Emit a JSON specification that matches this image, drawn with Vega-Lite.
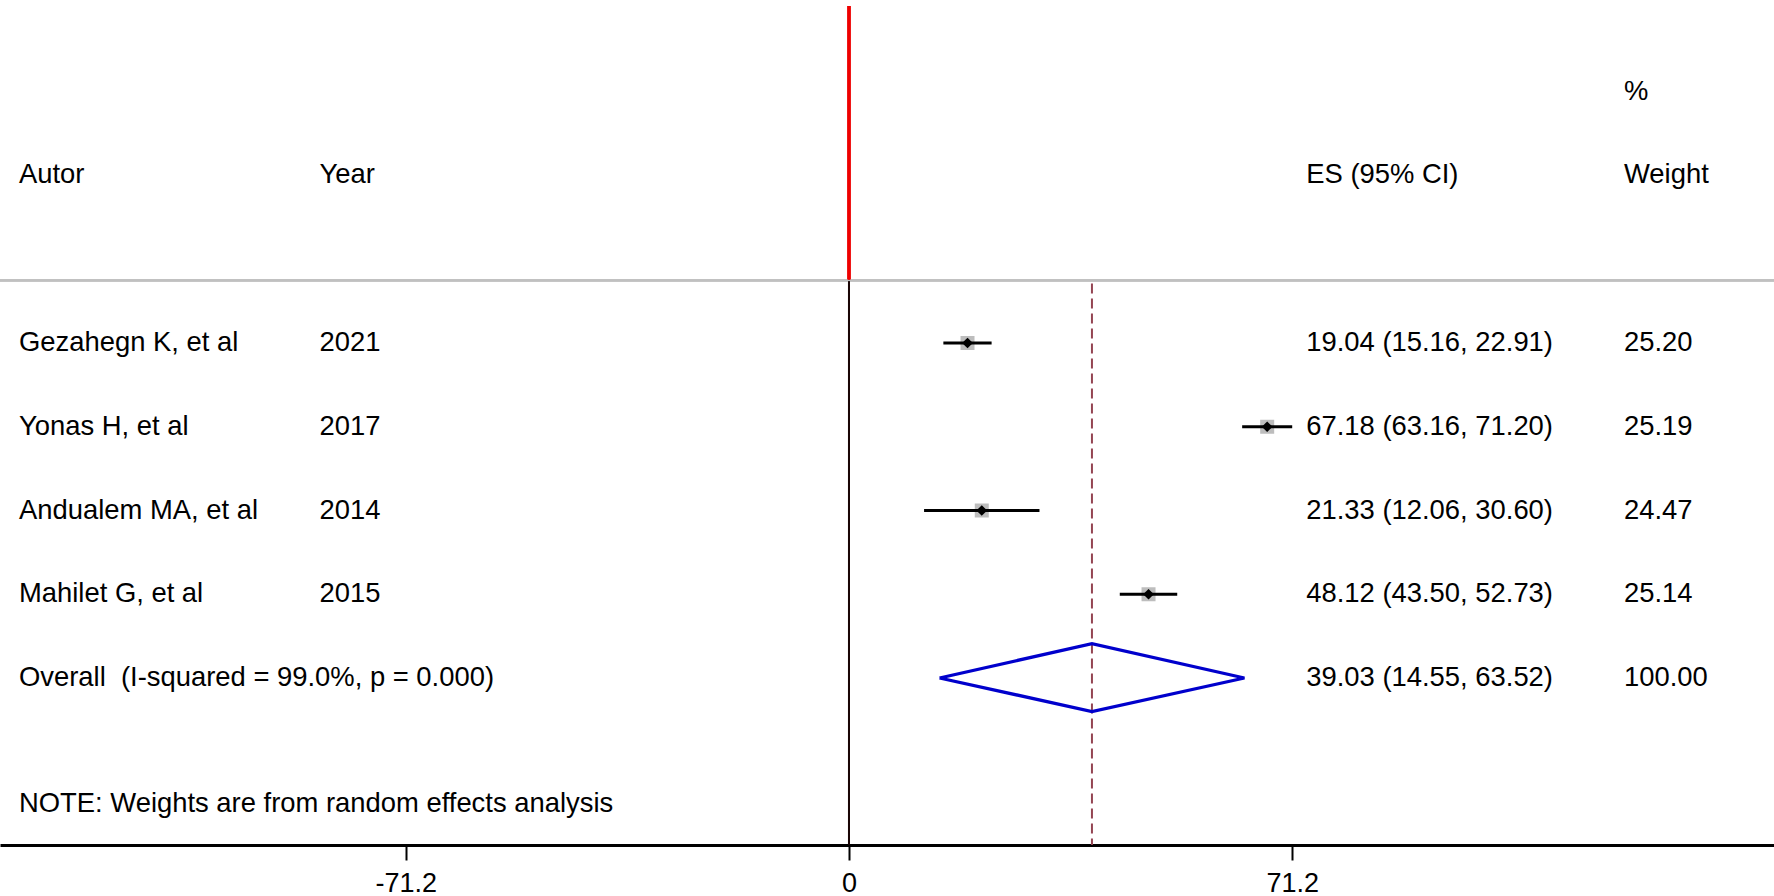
{
  "$schema": "https://vega.github.io/schema/vega-lite/v6.json",
  "width": 1774,
  "height": 845,
  "autosize": {"type": "none"},
  "padding": {"left": 0, "top": 0, "right": 0, "bottom": 51},
  "background": "white",
  "config": {
    "view": {"stroke": null},
    "text": {"font": "Liberation Sans", "fontSize": 27.4, "color": "black", "align": "left", "baseline": "middle"}
  },
  "datasets": {
    "rows": [
      {"row": -2, "weight": "%"},
      {"row": -1, "author": "Autor", "year": "Year", "es_ci": "ES (95% CI)", "weight": "Weight"},
      {"row": 1, "author": "Gezahegn K, et al", "year": "2021", "es_ci": "19.04 (15.16, 22.91)", "weight": "25.20", "es": 19.04, "lo": 15.16, "hi": 22.91, "type": "study"},
      {"row": 2, "author": "Yonas H, et al", "year": "2017", "es_ci": "67.18 (63.16, 71.20)", "weight": "25.19", "es": 67.18, "lo": 63.16, "hi": 71.20, "type": "study"},
      {"row": 3, "author": "Andualem MA, et al", "year": "2014", "es_ci": "21.33 (12.06, 30.60)", "weight": "24.47", "es": 21.33, "lo": 12.06, "hi": 30.60, "type": "study"},
      {"row": 4, "author": "Mahilet G, et al", "year": "2015", "es_ci": "48.12 (43.50, 52.73)", "weight": "25.14", "es": 48.12, "lo": 43.50, "hi": 52.73, "type": "study"},
      {"row": 5, "author": "Overall\u00a0 (I-squared = 99.0%, p = 0.000)", "es_ci": "39.03 (14.55, 63.52)", "weight": "100.00", "es": 39.03, "lo": 14.55, "hi": 63.52, "type": "overall"},
      {"row": 6.5, "author": "NOTE: Weights are from random effects analysis"}
    ],
    "diamond": [
      {"x": 14.55, "y": 5.0, "o": 1},
      {"x": 39.03, "y": 4.59, "o": 2},
      {"x": 63.52, "y": 5.0, "o": 3},
      {"x": 39.03, "y": 5.40, "o": 4},
      {"x": 14.55, "y": 5.0, "o": 5}
    ]
  },
  "data": {"name": "rows"},
  "encoding": {
    "x": {
      "type": "quantitative",
      "scale": {"domain": [-136.39, 148.6], "nice": false, "zero": false}
    },
    "y": {
      "type": "quantitative",
      "axis": null,
      "scale": {"domain": [-3.0955, 6.994], "reverse": true, "nice": false, "zero": false}
    }
  },
  "layer": [
    {
      "mark": {"type": "rule", "color": "#c0c0c0", "strokeWidth": 2},
      "encoding": {"y": {"datum": 0.25, "type": "quantitative", "axis": null}}
    },
    {
      "mark": {"type": "rule", "color": "#1a0505", "strokeWidth": 2},
      "encoding": {
        "x": {"datum": 0, "type": "quantitative", "axis": {
          "values": [-71.2, 0, 71.2],
          "labelExpr": "datum.value == 0 ? '0' : (datum.value < 0 ? '-' : '') + format(abs(datum.value), '.1f')",
          "title": null, "grid": false, "orient": "bottom",
          "domainColor": "black", "domainWidth": 3,
          "tickColor": "black", "tickWidth": 2, "tickSize": 15,
          "labelFont": "Liberation Sans", "labelFontSize": 27, "labelColor": "black",
          "labelPadding": 10, "labelFlush": false, "labelOverlap": false
        }},
        "y": {"datum": 0.27, "type": "quantitative", "axis": null},
        "y2": {"datum": 6.994}
      }
    },
    {
      "mark": {"type": "rule", "color": "#ee0000", "strokeWidth": 2.5},
      "encoding": {
        "x": {"datum": 0, "type": "quantitative"},
        "y": {"datum": -3.024, "type": "quantitative", "axis": null},
        "y2": {"datum": 0.24}
      }
    },
    {
      "transform": [{"filter": "datum.type == 'overall'"}],
      "mark": {"type": "rule", "color": "#944552", "strokeWidth": 2, "strokeDash": [10, 5]},
      "encoding": {
        "x": {"field": "es", "type": "quantitative"},
        "y": {"datum": 0.29, "type": "quantitative", "axis": null},
        "y2": {"datum": 6.994}
      }
    },
    {
      "transform": [{"filter": "datum.type == 'study'"}],
      "mark": {"type": "point", "shape": "square", "filled": true, "size": 196, "color": "#bdbdbd", "opacity": 1},
      "encoding": {
        "x": {"field": "es", "type": "quantitative"},
        "y": {"field": "row", "type": "quantitative", "axis": null}
      }
    },
    {
      "transform": [{"filter": "datum.type == 'study'"}],
      "mark": {"type": "rule", "color": "black", "strokeWidth": 3.2},
      "encoding": {
        "x": {"field": "lo", "type": "quantitative"},
        "x2": {"field": "hi"},
        "y": {"field": "row", "type": "quantitative", "axis": null}
      }
    },
    {
      "transform": [{"filter": "datum.type == 'study'"}],
      "mark": {"type": "point", "shape": "diamond", "filled": true, "size": 115, "color": "black", "opacity": 1},
      "encoding": {
        "x": {"field": "es", "type": "quantitative"},
        "y": {"field": "row", "type": "quantitative", "axis": null}
      }
    },
    {
      "data": {"name": "diamond"},
      "mark": {"type": "line", "color": "#0000cc", "strokeWidth": 3.3, "strokeJoin": "miter"},
      "encoding": {
        "x": {"field": "x", "type": "quantitative"},
        "y": {"field": "y", "type": "quantitative", "axis": null},
        "order": {"field": "o", "type": "quantitative"}
      }
    },
    {
      "transform": [{"filter": "datum.author != null"}],
      "mark": {"type": "text"},
      "encoding": {
        "x": {"datum": -133.34, "type": "quantitative"},
        "y": {"field": "row", "type": "quantitative", "axis": null},
        "text": {"field": "author"}
      }
    },
    {
      "transform": [{"filter": "datum.year != null"}],
      "mark": {"type": "text"},
      "encoding": {
        "x": {"datum": -85.06, "type": "quantitative"},
        "y": {"field": "row", "type": "quantitative", "axis": null},
        "text": {"field": "year"}
      }
    },
    {
      "transform": [{"filter": "datum.es_ci != null"}],
      "mark": {"type": "text"},
      "encoding": {
        "x": {"datum": 73.46, "type": "quantitative"},
        "y": {"field": "row", "type": "quantitative", "axis": null},
        "text": {"field": "es_ci"}
      }
    },
    {
      "transform": [{"filter": "datum.weight != null"}],
      "mark": {"type": "text"},
      "encoding": {
        "x": {"datum": 124.5, "type": "quantitative"},
        "y": {"field": "row", "type": "quantitative", "axis": null},
        "text": {"field": "weight"}
      }
    }
  ]
}
